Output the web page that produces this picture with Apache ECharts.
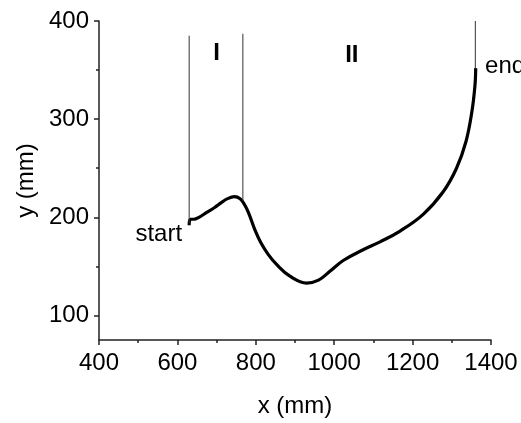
<!DOCTYPE html>
<html>
<head>
<meta charset="utf-8">
<script src="https://cdn.jsdelivr.net/npm/echarts@6/dist/echarts.min.js"></script>
<style>
  html, body { margin: 0; padding: 0; background: #fff; }
  #main { width: 521px; height: 423px; }
</style>
</head>
<body>
<div id="main"></div>
<script>
// trajectory (mm)
const pathX = [630, 633, 642, 655, 675, 695, 712, 728, 745, 760, 771, 781, 797, 813, 832, 853, 887, 930, 960, 989, 1023, 1074, 1117, 1168, 1227, 1278, 1312, 1336, 1351, 1359, 1361];
const pathY = [192, 198, 198, 200, 205, 210, 215, 219, 221, 219, 213, 205, 188, 174, 162, 152, 140, 133, 136, 145, 156, 167, 175, 186, 203, 226, 250, 277, 307, 334, 352];

// phase boundaries
const boundX = [630, 767, 1360];
const boundLow = [194, 217, 352];
const boundHigh = [385, 387, 400];

// text notes
const noteText = ['I', 'II', 'start', 'end'];
const noteX = [700, 1045, 612, 1385];
const noteY = [367, 365, 183, 354];

const yMajor = [100, 200, 300, 400];
const yMinor = [150, 250, 350];

const font = 'Arial, "Liberation Sans", sans-serif';
const ink = '#000';
const fs = 24;

let chart = echarts.init(document.getElementById('main'));

const boundSeries = boundX.map(function (x, i) {
    return {
        type: 'line',
        data: [[x, boundLow[i]], [x, boundHigh[i]]],
        showSymbol: false,
        silent: true,
        lineStyle: { color: '#333', width: 1 }
    };
});

const notePos = ['inside', 'inside', 'left', 'right'];

const option = {
    animation: false,
    grid: { left: 99, right: 30, top: 21, bottom: 80 },
    xAxis: {
        type: 'value',
        min: 400,
        max: 1400,
        interval: 200,
        name: 'x (mm)',
        nameLocation: 'middle',
        nameGap: 54,
        nameTextStyle: { fontSize: fs, color: ink, fontFamily: font },
        axisLine: { onZero: false, lineStyle: { color: '#222', width: 1.5 } },
        axisTick: { inside: false, length: 5, lineStyle: { color: '#222', width: 1.5 } },
        minorTick: { show: true, splitNumber: 2, length: 3, lineStyle: { color: '#222', width: 1.5 } },
        axisLabel: {
            fontSize: fs, color: ink, fontFamily: font, margin: 11,
            formatter: function (v) { return String(v); }
        },
        splitLine: { show: false }
    },
    yAxis: [
        {
            type: 'value',
            min: 75,
            max: 400,
            name: 'y (mm)',
            nameLocation: 'middle',
            nameGap: 51,
            nameTextStyle: { fontSize: fs, color: ink, fontFamily: font },
            axisLine: { onZero: false, lineStyle: { color: '#222', width: 1.5 } },
            axisTick: { length: 5, customValues: yMajor, lineStyle: { color: '#222', width: 1.5 } },
            axisLabel: { fontSize: fs, color: ink, fontFamily: font, margin: 10, customValues: yMajor },
            splitLine: { show: false }
        },
        {
            type: 'value',
            min: 75,
            max: 400,
            position: 'left',
            axisLine: { show: false },
            axisTick: { length: 3, customValues: yMinor, lineStyle: { color: '#222', width: 1.5 } },
            axisLabel: { show: false },
            splitLine: { show: false }
        }
    ],
    series: [
        {
            type: 'line',
            data: pathX.map(function (x, i) { return [x, pathY[i]]; }),
            smooth: 0.4,
            showSymbol: false,
            silent: true,
            lineStyle: { color: '#000', width: 3.2 }
        }
    ].concat(boundSeries).concat([
        {
            type: 'scatter',
            symbolSize: 0,
            silent: true,
            itemStyle: { opacity: 1 },
            data: noteText.map(function (t, i) {
                return {
                    name: t,
                    value: [noteX[i], noteY[i]],
                    label: {
                        show: true,
                        position: notePos[i],
                        distance: 0,
                        formatter: '{b}',
                        fontSize: fs,
                        fontWeight: i < 2 ? 'bold' : 'normal',
                        color: ink,
                        fontFamily: font
                    }
                };
            })
        }
    ])
};

chart.setOption(option);
window.addEventListener('resize', function () {
    chart.resize();
});
</script>
</body>
</html>
